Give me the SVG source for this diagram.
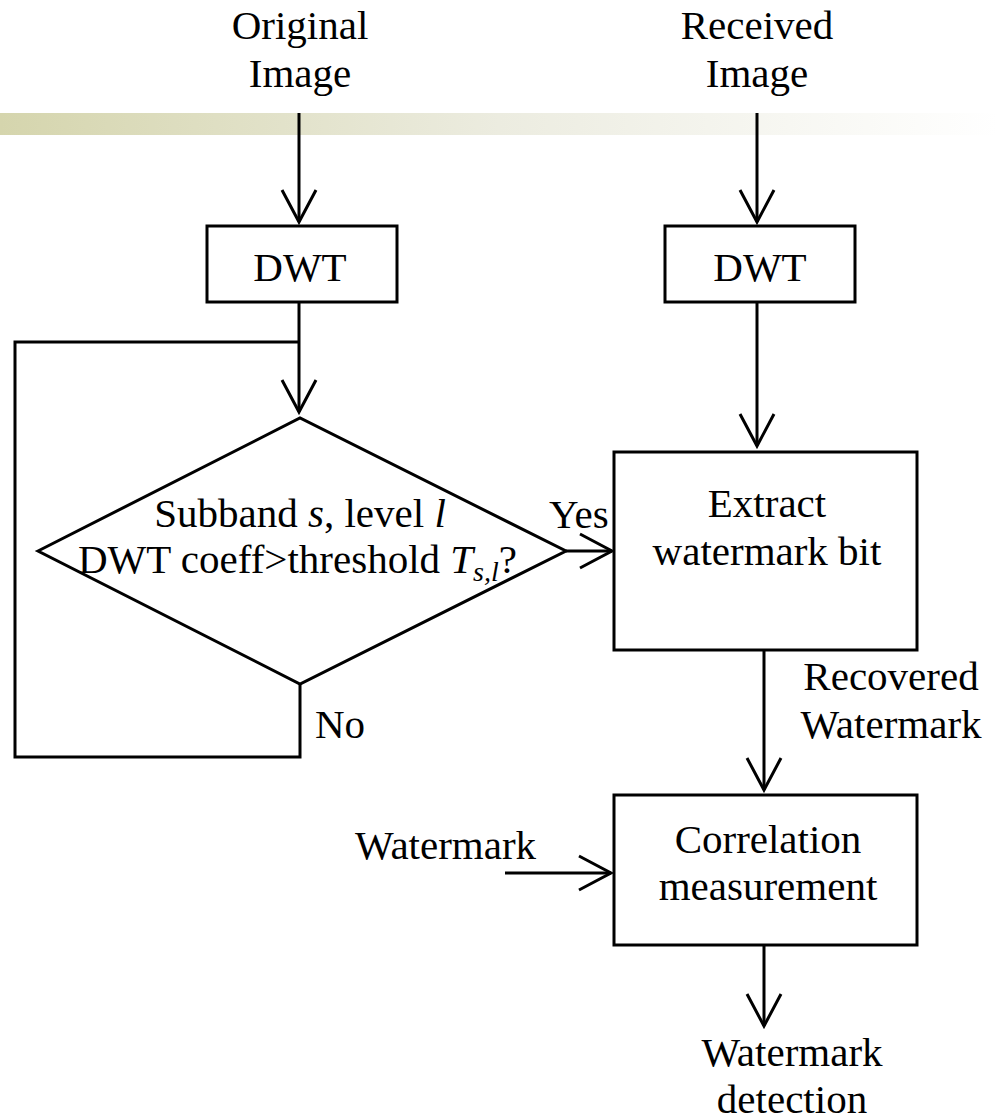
<svg xmlns="http://www.w3.org/2000/svg" width="998" height="1120" viewBox="0 0 998 1120">
<defs>
<linearGradient id="bar" x1="0" y1="0" x2="1" y2="0">
<stop offset="0" stop-color="#d5d5ad"/>
<stop offset="0.5" stop-color="#ecece0"/>
<stop offset="1" stop-color="#ffffff"/>
</linearGradient>
<marker id="arr" markerUnits="userSpaceOnUse" markerWidth="44" markerHeight="44" viewBox="-38 -22 44 44" refX="0" refY="0" orient="auto" overflow="visible">
<path d="M-32,-17 L0,0 L-32,17" fill="none" stroke="#000" stroke-width="3"/>
</marker>
<style>
text{font-family:"Liberation Serif","DejaVu Serif",serif;font-size:41px;fill:#000}
.c{text-anchor:middle}
.box{fill:#fff;stroke:#000;stroke-width:3}
.ln{fill:none;stroke:#000;stroke-width:3}
.ar{fill:none;stroke:#000;stroke-width:3;marker-end:url(#arr)}
</style>
</defs>
<rect x="0" y="113" width="998" height="22" fill="url(#bar)"/>
<g id="connectors">
<line class="ar" x1="299" y1="113" x2="299" y2="222"/>
<line class="ar" x1="757" y1="113" x2="757" y2="222"/>
<line class="ar" x1="299" y1="302" x2="299" y2="412"/>
<polyline class="ln" points="299,342 15,342 15,757 300,757 300,684"/>
<line class="ar" x1="757" y1="302" x2="757" y2="446"/>
<line class="ar" x1="566" y1="551" x2="612" y2="551"/>
<line class="ar" x1="764" y1="650" x2="764" y2="790"/>
<line class="ar" x1="505" y1="873" x2="611" y2="873"/>
<line class="ar" x1="764" y1="945" x2="764" y2="1026"/>
</g>
<g id="label-original">
<text class="c" x="300" y="39">Original</text>
<text class="c" x="300" y="87">Image</text>
</g>
<g id="label-received">
<text class="c" x="757" y="39">Received</text>
<text class="c" x="757" y="87">Image</text>
</g>
<g id="dwt-left">
<rect class="box" x="207" y="226" width="190" height="76"/>
<text class="c" x="300" y="281">DWT</text>
</g>
<g id="dwt-right">
<rect class="box" x="665" y="226" width="190" height="76"/>
<text class="c" x="760" y="281">DWT</text>
</g>
<g id="decision">
<polygon class="box" points="38,551 300,418 566,551 300,684"/>
<text class="c" x="300" y="527">Subband <tspan font-style="italic">s</tspan>, level <tspan font-style="italic">l</tspan></text>
<text x="78" y="573">DWT coeff&gt;threshold <tspan font-style="italic">T</tspan><tspan font-style="italic" font-size="28" dy="8">s,l</tspan><tspan dy="-8">?</tspan></text>
</g>
<g id="label-yes"><text x="549" y="528">Yes</text></g>
<g id="label-no"><text x="315" y="738">No</text></g>
<g id="extract">
<rect class="box" x="614" y="452" width="303" height="198"/>
<text class="c" x="767" y="517">Extract</text>
<text class="c" x="767" y="565">watermark bit</text>
</g>
<g id="label-recovered">
<text class="c" x="891" y="690">Recovered</text>
<text class="c" x="891" y="738">Watermark</text>
</g>
<g id="correlation">
<rect class="box" x="614" y="795" width="303" height="150"/>
<text class="c" x="768" y="853">Correlation</text>
<text class="c" x="768" y="900">measurement</text>
</g>
<g id="label-watermark"><text x="355" y="859">Watermark</text></g>
<g id="label-detection">
<text class="c" x="792" y="1066">Watermark</text>
<text class="c" x="792" y="1113">detection</text>
</g>
</svg>
